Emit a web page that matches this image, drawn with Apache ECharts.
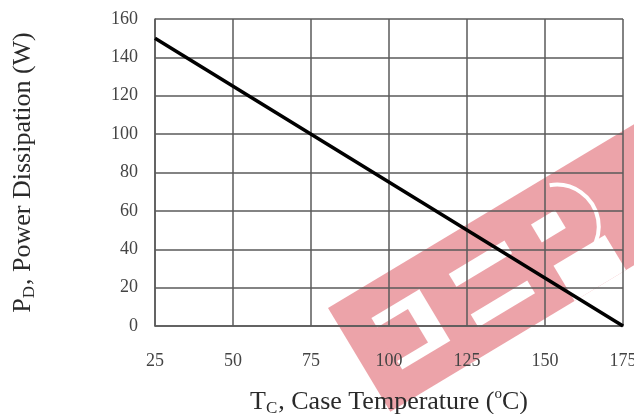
<!DOCTYPE html>
<html>
<head>
<meta charset="utf-8">
<script src="https://cdn.jsdelivr.net/npm/echarts@6/dist/echarts.min.js"></script>
<style>
html,body{margin:0;padding:0;background:#fff;}
#c{width:634px;height:414px;}
</style>
</head>
<body>
<div id="c"></div>
<script>
// Data
var xTicks = [25, 50, 75, 100, 125, 150, 175];
var yTicks = [0, 20, 40, 60, 80, 100, 120, 140, 160];
var caseTemp = [25, 175];
var powerDiss = [150, 0];

var FONT = '"Liberation Serif", "Times New Roman", serif';
var GRIDC = '#5a5a5a';
var PINK = '#eca3a9';
var NAMEC = '#2a2a2a';
var LABELC = '#444';

var chart = echarts.init(document.getElementById('c'), null, {renderer: 'canvas'});

var lineData = caseTemp.map(function (x, i) { return [x, powerDiss[i]]; });

var wm = {
  type: 'group',
  position: [328, 308],
  rotation: 0.541,
  z: -10,
  children: [
    {type: 'rect', z: -10, shape: {x: 0, y: 0, width: 420, height: 121}, style: {fill: PINK}},
    {type: 'rect', z: -9, shape: {x: 32, y: 31, width: 56, height: 60}, style: {fill: '#fff'}},
    {type: 'rect', z: -8, shape: {x: 30, y: 42, width: 38, height: 39}, style: {fill: PINK}},
    {type: 'rect', z: -9, shape: {x: 121, y: 33, width: 65, height: 15}, style: {fill: '#fff'}},
    {type: 'rect', z: -9, shape: {x: 119, y: 79, width: 66, height: 15}, style: {fill: '#fff'}},
    {type: 'rect', z: -9, shape: {x: 217, y: 33, width: 28, height: 21}, style: {fill: '#fff'}},
    {type: 'rect', z: -9, shape: {x: 215, y: 80, width: 60, height: 41}, style: {fill: '#fff'}},
    {type: 'arc', z: -9, shape: {cx: 238, cy: 48, r: 42, startAngle: -1.2, endAngle: 1.1}, style: {stroke: '#fff', lineWidth: 4, fill: null}}
  ]
};

var nameRich = {
  n: {fontFamily: FONT, fontSize: 26, color: NAMEC, lineHeight: 30},
  sub: {fontFamily: FONT, fontSize: 17, color: NAMEC, lineHeight: 17, verticalAlign: 'bottom', padding: [11, 1, 0, 0]},
  sup: {fontFamily: FONT, fontSize: 15, color: NAMEC, lineHeight: 15, verticalAlign: 'top', padding: [0, 0, 10, 0]}
};

var option = {
  animation: false,
  backgroundColor: 'transparent',
  grid: {left: 155, right: 11, top: 19, bottom: 88, containLabel: false, outerBoundsMode: 'none'},
  xAxis: {
    type: 'value',
    min: 25, max: 175, interval: 25,
    axisLine: {show: true, lineStyle: {color: GRIDC, width: 1.5}},
    axisTick: {show: false},
    splitLine: {show: true, lineStyle: {color: GRIDC, width: 1.5}},
    axisLabel: {color: LABELC, fontFamily: FONT, fontSize: 18, margin: 26,
      formatter: function (v) { return xTicks.indexOf(v) >= 0 ? String(v) : ''; }},
    name: '{n|T}{sub|C}{n|, Case Temperature (}{sup|o}{n|C)}',
    nameLocation: 'middle',
    nameGap: 61,
    nameTextStyle: {color: NAMEC, fontFamily: FONT, fontSize: 26, rich: nameRich}
  },
  yAxis: {
    type: 'value',
    min: 0, max: 160, interval: 20,
    axisLine: {show: true, lineStyle: {color: GRIDC, width: 1.5}},
    axisTick: {show: false},
    splitLine: {show: true, lineStyle: {color: GRIDC, width: 1.5}},
    axisLabel: {color: LABELC, fontFamily: FONT, fontSize: 18, margin: 17,
      formatter: function (v) { return yTicks.indexOf(v) >= 0 ? String(v) : ''; }},
    name: '{n|P}{sub|D}{n|, Power Dissipation (W)}',
    nameLocation: 'middle',
    nameGap: 117,
    nameTextStyle: {color: NAMEC, fontFamily: FONT, fontSize: 26, rich: nameRich}
  },
  graphic: [wm],
  series: [{
    type: 'line',
    data: lineData,
    showSymbol: false,
    symbol: 'none',
    lineStyle: {color: '#000', width: 3.5},
    z: 5
  }]
};
chart.setOption(option);
</script>
</body>
</html>
